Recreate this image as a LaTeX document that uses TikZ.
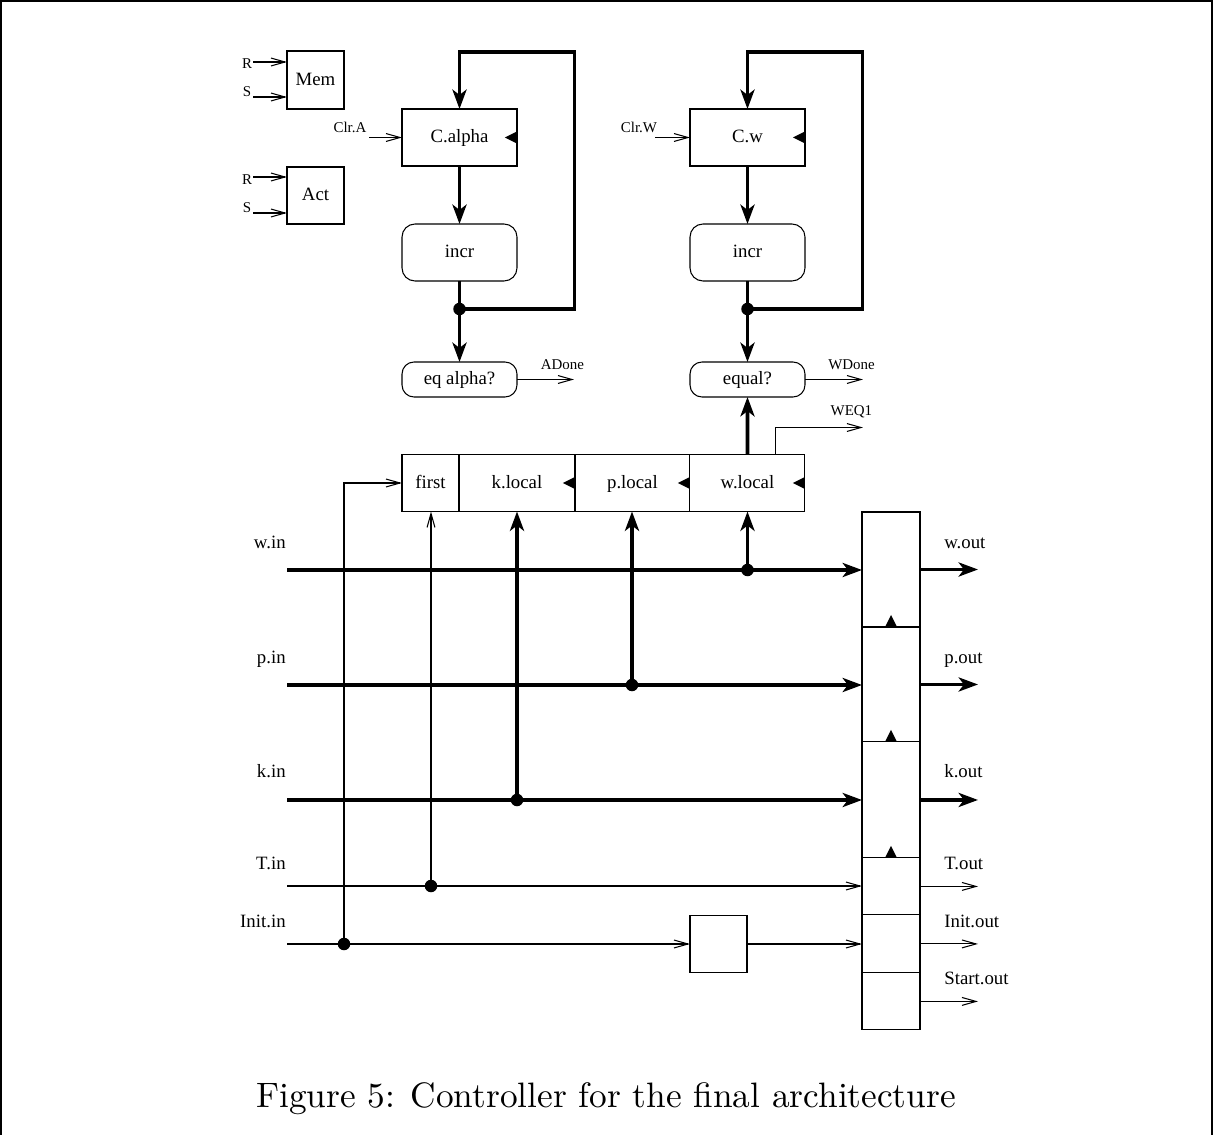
\documentclass[tikz,border=0pt]{standalone}
\usepackage{fontspec}
\setmainfont{Liberation Serif}
\newfontfamily\capfont{lmroman10-regular.otf}
\usetikzlibrary{arrows.meta}
\usetikzlibrary{positioning}
\tikzset{
  clk/.pic={
      \fill +(0,-6) -- +(-12,0) -- +(0,6) -- cycle;
    },
  clkup/.pic={
      \fill +(-6,0) -- +(0,-12) -- +(6,0) -- cycle;
    },
}

\begin{document}
\begin{tikzpicture}[x=0.02cm, y=-0.02cm,
    every node/.style={font=\fontsize{10.7}{12}\selectfont},
    sml/.style={font=\fontsize{8.5}{10}\selectfont},
    box/.style={draw, line width=0.6pt, inner sep=0pt, outer sep=0pt,
      minimum width=1.14cm, minimum height=1.14cm, text height=7.4pt, text depth=1.2pt},
    wbox/.style={box, minimum width=2.3cm},
    rbox/.style={wbox, rounded corners=0.26cm},
    cell/.style={box, minimum width=1.16cm},
    sig/.style={line width=0.6pt, -{Straight Barb[length=8pt,width=4.5pt]}},
    bus/.style={line width=2.2pt, -{Stealth[length=11pt,width=8pt,inset=3pt]}},
    busline/.style={line width=2.2pt},
    jdot/.style={circle, fill, inner sep=0pt, minimum size=0.25cm},
  ]
      \useasboundingbox (0,0) rectangle (1214,1135);
      \draw [line width=0.8pt] (1,1135) -- (1,1) -- (1212,1) -- (1212,1135);

      % flags
      \node [box, minimum height=1.16cm] (mem) at (315.5,80) {Mem};
      \node [box] (act) at (315.5,195.5) {Act};
      \foreach \Name/\Y/\Txt/\Ty in {rm/62/R/64, sm/97/S/92, ra/177/R/180, sa/213/S/208}{
          \coordinate (\Name) at (253,\Y);
          \node [sml] at (247,\Ty) {\Txt};
        }
      \draw [sig] (rm) -- (rm -| mem.west);
      \draw [sig] (sm) -- (sm -| mem.west);
      \draw [sig] (ra) -- (ra -| act.west);
      \draw [sig] (sa) -- (sa -| act.west);

      % alpha counter
      \node [wbox] (calpha) at (459.5,137.5) {C.alpha};
      \node [rbox] (incra) at (459.5,252.5) {incr};
      \node [rbox, minimum height=0.7cm, rounded corners=0.24cm] (eqa) at (459.5,379.5) {eq alpha?};
      \node [jdot] (ja) at (459.5,309) {};
      \draw [bus] (ja.center) -- ++(115,0) -- ++(0,-257) -| (calpha.north);
      \draw [bus] (calpha) -- (incra);
      \draw [busline] (incra.south) -- (ja.center);
      \draw [bus] (ja.center) -- (eqa.north);
      \node [sml] at (350,127) {Clr.A};
      \draw [sig] ([xshift=-0.66cm]calpha.west) -- (calpha.west);
      \draw [sig] (eqa.east) -- ++(57,0) node [sml, above, xshift=-0.23cm, yshift=0.06cm] {ADone};
      \pic at (calpha.east) {clk};

      % w counter
      \node [wbox] (cw) at (747.5,137.5) {C.w};
      \node [rbox] (incrw) at (747.5,252.5) {incr};
      \node [rbox, minimum height=0.7cm, rounded corners=0.24cm] (eqw) at (747.5,379.5) {equal?};
      \node [jdot] (jw) at (747.5,309) {};
      \draw [bus] (jw.center) -- ++(115,0) -- ++(0,-257) -| (cw.north);
      \draw [bus] (cw) -- (incrw);
      \draw [busline] (incrw.south) -- (jw.center);
      \draw [bus] (jw.center) -- (eqw.north);
      \node [sml] at (639,127) {Clr.W};
      \draw [sig] ([xshift=-0.7cm]cw.west) -- (cw.west);
      \draw [sig] (eqw.east) -- ++(58,0) node [sml, above, xshift=-0.23cm, yshift=0.06cm] {WDone};
      \pic at (cw.east) {clk};

      % local registers
      \node [box] (first) at (430.5,483) {first};
      \node [wbox, minimum width=2.32cm, right=0pt of first] (klocal) {k.local};
      \node [wbox, right=0pt of klocal] (plocal) {p.local};
      \node [wbox, right=0pt of plocal] (wlocal) {w.local};
      \foreach \Reg in {klocal, plocal, wlocal}{
          \pic at (\Reg.east) {clk};
        }
      \draw [bus] (wlocal.north) -- (eqw.south);
      \draw [sig] ([xshift=0.57cm]wlocal.north) -- ++(0,-27) -- ++(87,0) node [sml, above, xshift=-0.23cm, yshift=0.06cm] {WEQ1};

      % output register column
      \node [cell, minimum height=2.3cm] (wcell) at (891,569.5) {};
      \node [cell, minimum height=2.3cm, below=0pt of wcell] (pcell) {};
      \node [cell, minimum height=2.32cm, below=0pt of pcell] (kcell) {};
      \node [cell, minimum height=1.14cm, below=0pt of kcell] (tcell) {};
      \node [cell, minimum height=1.16cm, below=0pt of tcell] (icell) {};
      \node [cell, minimum height=1.14cm, below=0pt of icell] (scell) {};
      \foreach \Cell in {wcell, pcell, kcell}{
          \pic at (\Cell.south) {clkup};
        }

      % inputs
      \foreach \Name/\Y in {win/570, pin/685, kin/800, tin/886, iin/944}{
          \coordinate (\Name) at (287,\Y);
        }
      \node [anchor=base east, inner sep=0pt] at (286,548) {w.in};
      \node [anchor=base east, inner sep=0pt] at (286,663) {p.in};
      \node [anchor=base east, inner sep=0pt] at (286,777) {k.in};
      \node [anchor=base east, inner sep=0pt] at (286,869) {T.in};
      \node [anchor=base east, inner sep=0pt] at (286,927) {Init.in};

      \draw [bus] (win) -- (win -| wcell.west);
      \draw [bus] (pin) -- (pin -| pcell.west);
      \draw [bus] (kin) -- (kin -| kcell.west);
      \draw [sig] (tin) -- (tin -| tcell.west);
      \node [box] (delay) at (718.5,944) {};
      \draw [sig] (iin) -- (delay.west);
      \draw [sig] (delay.east) -- (delay.east -| icell.west);

      % taps
      \node [jdot] (tw) at (747.5,570) {};
      \node [jdot] (tp) at (632,685) {};
      \node [jdot] (tk) at (517,800) {};
      \node [jdot] (tt) at (431,886) {};
      \node [jdot] (ti) at (344,944) {};
      \draw [bus] (tw.center) -- (tw.center |- wlocal.south);
      \draw [bus] (tp.center) -- (tp.center |- plocal.south);
      \draw [bus] (tk.center) -- (tk.center |- klocal.south);
      \draw [sig] (tt.center) -- (tt.center |- first.south);
      \draw [sig] (ti.center) |- (first.west);

      % outputs
      \foreach \Cell/\Y/\Txt in {wcell/548/w.out, pcell/663/p.out, kcell/777/k.out}{
          \draw [bus] (\Cell.east) -- ++(58,0);
          \node [anchor=base west, inner sep=0pt] at (944,\Y) {\Txt};
        }
      \foreach \Cell/\Y/\Txt in {tcell/869/T.out, icell/927/Init.out, scell/984/Start.out}{
          \draw [sig] (\Cell.east) -- ++(58,0);
          \node [anchor=base west, inner sep=0pt] at (944,\Y) {\Txt};
        }

      \node [font=\capfont\fontsize{20.1}{23}\selectfont] (cap) at (606,1099) {Figure 5: Controller for the final architecture};
    \end{tikzpicture}
\end{document}
